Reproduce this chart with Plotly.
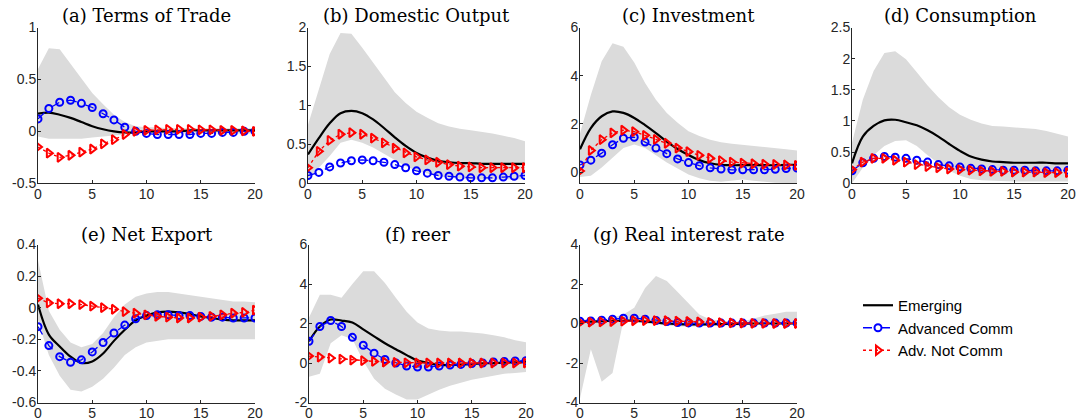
import plotly.graph_objects as go

periods = list(range(21))

titles = ["(a) Terms of Trade", "(b) Domestic Output", "(c) Investment", "(d) Consumption",
          "(e) Net Export", "(f) reer", "(g) Real interest rate"]
series_names = ["Emerging", "Advanced Comm", "Adv. Not Comm"]

# (a) Terms of Trade
tot_emerging = [0.17, 0.18, 0.16, 0.13, 0.09, 0.05, 0.02, 0.0, -0.01, -0.01, 0.0, 0.0, 0.0, 0.0, 0.01, 0.01, 0.01, 0.01, 0.01, 0.01, 0.01]
tot_adv_comm = [0.12, 0.22, 0.28, 0.30, 0.27, 0.23, 0.17, 0.11, 0.04, 0.0, -0.02, -0.03, -0.03, -0.03, -0.03, -0.02, -0.02, -0.01, -0.01, 0.0, 0.0]
tot_adv_not = [-0.15, -0.21, -0.25, -0.23, -0.20, -0.17, -0.12, -0.08, -0.03, 0.0, 0.01, 0.015, 0.02, 0.02, 0.02, 0.015, 0.015, 0.01, 0.01, 0.005, 0.0]
tot_hi = [0.60, 0.80, 0.79, 0.65, 0.50, 0.37, 0.26, 0.16, 0.09, 0.05, 0.04, 0.04, 0.03, 0.03, 0.03, 0.03, 0.03, 0.03, 0.03, 0.03, 0.03]
tot_lo = [-0.05, -0.07, -0.07, -0.07, -0.07, -0.06, -0.05, -0.04, -0.03, -0.02, -0.02, -0.02, -0.02, -0.02, -0.02, -0.02, -0.02, -0.02, -0.02, -0.02, -0.02]

# (b) Domestic Output
out_emerging = [0.37, 0.58, 0.77, 0.90, 0.93, 0.90, 0.82, 0.71, 0.59, 0.48, 0.39, 0.33, 0.29, 0.27, 0.26, 0.26, 0.25, 0.25, 0.25, 0.25, 0.25]
out_adv_comm = [0.10, 0.14, 0.21, 0.26, 0.29, 0.30, 0.29, 0.27, 0.24, 0.20, 0.16, 0.13, 0.10, 0.09, 0.08, 0.07, 0.07, 0.07, 0.08, 0.09, 0.10]
out_adv_not = [0.20, 0.41, 0.55, 0.63, 0.65, 0.63, 0.58, 0.52, 0.45, 0.39, 0.34, 0.30, 0.27, 0.24, 0.22, 0.21, 0.20, 0.20, 0.20, 0.20, 0.20]
out_hi = [0.75, 1.20, 1.66, 1.93, 1.92, 1.74, 1.55, 1.35, 1.17, 1.03, 0.92, 0.84, 0.77, 0.73, 0.70, 0.68, 0.66, 0.64, 0.61, 0.58, 0.54]
out_lo = [0.05, 0.20, 0.35, 0.52, 0.56, 0.52, 0.46, 0.38, 0.30, 0.22, 0.16, 0.12, 0.09, 0.07, 0.06, 0.05, 0.05, 0.05, 0.05, 0.05, 0.05]

# (c) Investment
inv_emerging = [0.95, 1.83, 2.32, 2.52, 2.46, 2.25, 1.95, 1.62, 1.27, 0.96, 0.71, 0.50, 0.37, 0.30, 0.29, 0.29, 0.29, 0.29, 0.29, 0.30, 0.30]
inv_adv_comm = [0.30, 0.50, 0.79, 1.14, 1.41, 1.45, 1.25, 1.00, 0.77, 0.55, 0.40, 0.27, 0.18, 0.13, 0.10, 0.10, 0.10, 0.10, 0.12, 0.15, 0.17]
inv_adv_not = [0.05, 0.90, 1.35, 1.63, 1.74, 1.68, 1.53, 1.36, 1.20, 1.00, 0.85, 0.70, 0.58, 0.48, 0.42, 0.38, 0.35, 0.33, 0.32, 0.30, 0.28]
inv_hi = [1.60, 3.20, 4.60, 5.35, 5.20, 4.55, 3.70, 3.00, 2.45, 2.05, 1.70, 1.50, 1.35, 1.24, 1.18, 1.14, 1.10, 1.06, 1.00, 0.95, 0.90]
inv_lo = [-0.20, -0.15, 0.20, 0.60, 1.00, 1.15, 1.00, 0.70, 0.40, 0.15, -0.10, -0.25, -0.35, -0.40, -0.35, -0.30, -0.35, -0.40, -0.44, -0.45, -0.45]

# (d) Consumption
con_emerging = [0.32, 0.75, 0.92, 1.01, 1.02, 0.98, 0.93, 0.85, 0.75, 0.63, 0.52, 0.43, 0.38, 0.35, 0.34, 0.33, 0.33, 0.33, 0.33, 0.32, 0.32]
con_adv_comm = [0.20, 0.33, 0.40, 0.43, 0.42, 0.40, 0.37, 0.34, 0.30, 0.28, 0.26, 0.24, 0.23, 0.22, 0.21, 0.21, 0.21, 0.20, 0.20, 0.20, 0.21]
con_adv_not = [0.22, 0.34, 0.40, 0.40, 0.37, 0.34, 0.30, 0.27, 0.25, 0.23, 0.22, 0.21, 0.20, 0.19, 0.19, 0.18, 0.18, 0.18, 0.17, 0.17, 0.17]
con_hi = [0.65, 1.34, 1.80, 2.09, 2.12, 1.99, 1.78, 1.57, 1.38, 1.22, 1.10, 1.02, 0.96, 0.92, 0.91, 0.90, 0.89, 0.87, 0.84, 0.80, 0.75]
con_lo = [0.0, 0.25, 0.45, 0.60, 0.68, 0.69, 0.60, 0.45, 0.32, 0.20, 0.12, 0.07, 0.05, 0.04, 0.03, 0.03, 0.03, 0.03, 0.03, 0.03, 0.03]

# (e) Net Export
nx_emerging = [0.02, -0.17, -0.245, -0.31, -0.35, -0.34, -0.29, -0.21, -0.14, -0.08, -0.05, -0.03, -0.025, -0.03, -0.04, -0.055, -0.065, -0.075, -0.08, -0.08, -0.08]
nx_adv_comm = [-0.12, -0.24, -0.31, -0.345, -0.33, -0.28, -0.22, -0.16, -0.11, -0.07, -0.05, -0.045, -0.045, -0.05, -0.05, -0.055, -0.06, -0.06, -0.065, -0.065, -0.065]
nx_adv_not = [0.06, 0.03, 0.025, 0.025, 0.02, 0.01, 0.0, -0.01, -0.025, -0.035, -0.045, -0.055, -0.06, -0.065, -0.065, -0.06, -0.055, -0.045, -0.035, -0.03, -0.015]
nx_hi = [0.30, -0.02, -0.14, -0.22, -0.25, -0.23, -0.16, -0.06, 0.02, 0.07, 0.09, 0.10, 0.10, 0.09, 0.08, 0.07, 0.06, 0.05, 0.04, 0.04, 0.035]
nx_lo = [-0.08, -0.30, -0.43, -0.52, -0.53, -0.50, -0.45, -0.38, -0.30, -0.25, -0.22, -0.21, -0.20, -0.20, -0.20, -0.20, -0.20, -0.20, -0.20, -0.20, -0.20]

# (f) reer
reer_emerging = [1.10, 1.85, 2.20, 2.15, 2.05, 1.70, 1.35, 1.00, 0.70, 0.40, 0.12, 0.0, -0.10, -0.10, -0.08, -0.05, -0.02, 0.0, 0.02, 0.03, 0.05]
reer_adv_comm = [1.10, 1.85, 2.15, 1.85, 1.30, 0.90, 0.50, 0.18, 0.0, -0.15, -0.20, -0.20, -0.15, -0.10, -0.07, -0.03, 0.0, 0.05, 0.08, 0.10, 0.12]
reer_adv_not = [0.35, 0.30, 0.25, 0.20, 0.15, 0.12, 0.08, 0.05, 0.03, 0.01, 0.0, 0.0, 0.0, 0.0, 0.0, 0.0, 0.0, 0.0, 0.0, 0.0, 0.0]
reer_hi = [2.30, 3.45, 3.45, 3.30, 4.00, 4.65, 4.65, 4.05, 3.30, 2.60, 2.05, 1.75, 1.65, 1.60, 1.60, 1.55, 1.50, 1.40, 1.30, 1.15, 1.05]
reer_lo = [-0.70, -0.55, 1.00, 1.40, 1.20, 0.10, -0.80, -1.30, -1.60, -1.85, -1.85, -1.60, -1.35, -1.15, -1.00, -0.85, -0.75, -0.65, -0.55, -0.50, -0.45]

# (g) Real interest rate
rir_emerging = [0.10, 0.10, 0.12, 0.13, 0.14, 0.15, 0.10, 0.05, 0.0, -0.03, -0.05, -0.05, -0.04, -0.03, -0.02, -0.01, 0.0, 0.0, 0.0, 0.0, 0.0]
rir_adv_comm = [0.12, 0.13, 0.17, 0.22, 0.27, 0.27, 0.22, 0.15, 0.10, 0.05, 0.03, 0.02, 0.02, 0.02, 0.02, 0.02, 0.02, 0.02, 0.02, 0.02, 0.02]
rir_adv_not = [0.05, 0.07, 0.08, 0.10, 0.12, 0.14, 0.15, 0.15, 0.14, 0.12, 0.10, 0.08, 0.06, 0.04, 0.03, 0.02, 0.01, 0.01, 0.0, 0.0, 0.0]
rir_hi = [0.20, 0.20, 0.20, 0.30, 0.45, 0.80, 1.80, 2.40, 2.15, 1.60, 1.00, 0.45, 0.20, 0.15, 0.10, 0.10, 0.25, 0.40, 0.50, 0.60, 0.60]
rir_lo = [-3.80, -1.30, -2.95, -2.50, 0.15, 0.05, 0.0, -0.05, -0.10, -0.15, -0.15, -0.15, -0.10, -0.10, -0.10, -0.10, -0.05, -0.05, -0.05, -0.05, -0.05]

x_tickvals = [0, 5, 10, 15, 20]
x_ticktext = ["0", "5", "10", "15", "20"]
y_ranges = [[-0.5, 1], [0, 2], [-0.46, 6], [0, 2.5], [-0.6, 0.4], [-2, 6], [-4, 4]]
y_tickvals = [[-0.5, 0, 0.5, 1], [0, 0.5, 1, 1.5, 2], [0, 2, 4, 6], [0, 0.5, 1, 1.5, 2, 2.5],
              [-0.6, -0.4, -0.2, 0, 0.2, 0.4], [-2, 0, 2, 4, 6], [-4, -2, 0, 2, 4]]
y_ticktext = [["-0.5", "0", "0.5", "1"], ["0", "0.5", "1", "1.5", "2"], ["0", "2", "4", "6"],
              ["0", "0.5", "1", "1.5", "2", "2.5"], ["-0.6", "-0.4", "-0.2", "0", "0.2", "0.4"],
              ["-2", "0", "2", "4", "6"], ["-4", "-2", "0", "2", "4"]]

panels = [
    (tot_emerging, tot_adv_comm, tot_adv_not, tot_lo, tot_hi),
    (out_emerging, out_adv_comm, out_adv_not, out_lo, out_hi),
    (inv_emerging, inv_adv_comm, inv_adv_not, inv_lo, inv_hi),
    (con_emerging, con_adv_comm, con_adv_not, con_lo, con_hi),
    (nx_emerging, nx_adv_comm, nx_adv_not, nx_lo, nx_hi),
    (reer_emerging, reer_adv_comm, reer_adv_not, reer_lo, reer_hi),
    (rir_emerging, rir_adv_comm, rir_adv_not, rir_lo, rir_hi),
]

# ---- layout (pixel boxes of plot areas) ----
W, H = 1077, 420
boxes = [
    (38, 255, 27.5, 183.3), (308, 525, 27.5, 183.3), (580, 797, 27.5, 183.3), (852, 1068, 27.5, 183.3),
    (38, 255, 244.5, 402.5), (309, 526, 244.5, 402.5), (580, 797, 244.5, 402.5),
]
title_y = [16, 16, 16, 16, 234, 234, 234]

BAND = "rgb(219,219,219)"
AXC = "#262626"
TICKFONT = dict(family="Liberation Sans, Arial, sans-serif", size=14, color=AXC)

fig = go.Figure()
layout = dict(
    width=W, height=H, margin=dict(l=0, r=0, t=0, b=0, autoexpand=False),
    paper_bgcolor="white", plot_bgcolor="white",
    showlegend=True,
)

annotations = []
for i, (emg, adv, nadv, lo, hi) in enumerate(panels):
    n = i + 1
    xa = "x" if n == 1 else f"x{n}"
    ya = "y" if n == 1 else f"y{n}"
    x0, x1, yt, yb = boxes[i]
    layout[f"xaxis{'' if n == 1 else n}"] = dict(
        domain=[x0 / W, x1 / W], anchor=ya, range=[0, 20], automargin=False,
        tickvals=x_tickvals, ticktext=x_ticktext, ticks="inside", ticklen=3,
        tickcolor=AXC, showline=True, linecolor=AXC, linewidth=1,
        showgrid=False, zeroline=False, tickfont=TICKFONT, mirror=False,
        ticklabelstandoff=-2,
    )
    layout[f"yaxis{'' if n == 1 else n}"] = dict(
        domain=[1 - yb / H, 1 - yt / H], anchor=xa, range=y_ranges[i], automargin=False,
        tickvals=y_tickvals[i], ticktext=y_ticktext[i], ticks="inside", ticklen=3,
        tickcolor=AXC, showline=True, linecolor=AXC, linewidth=1,
        showgrid=False, zeroline=False, tickfont=TICKFONT, mirror=False,
        ticklabelstandoff=-2,
    )
    # confidence band
    fig.add_trace(go.Scatter(x=periods, y=lo, mode="lines", line=dict(width=0, color=BAND),
                             xaxis=xa, yaxis=ya, showlegend=False, hoverinfo="skip"))
    fig.add_trace(go.Scatter(x=periods, y=hi, mode="lines", line=dict(width=0, color=BAND),
                             fill="tonexty", fillcolor=BAND,
                             xaxis=xa, yaxis=ya, showlegend=False, hoverinfo="skip"))
    fig.add_trace(go.Scatter(x=periods, y=emg, mode="lines", name=series_names[0],
                             line=dict(color="black", width=2.2, shape="spline"),
                             xaxis=xa, yaxis=ya, showlegend=(i == 0)))
    fig.add_trace(go.Scatter(x=periods, y=adv, mode="lines+markers", name=series_names[1],
                             line=dict(color="blue", width=1.3, dash="dash"),
                             marker=dict(symbol="circle-open", size=7, color="blue",
                                         line=dict(width=2, color="blue")),
                             xaxis=xa, yaxis=ya, showlegend=(i == 0)))
    fig.add_trace(go.Scatter(x=periods, y=nadv, mode="lines+markers", name=series_names[2],
                             line=dict(color="red", width=1.3, dash="dot"),
                             marker=dict(symbol="triangle-right-open", size=8, color="red",
                                         line=dict(width=2, color="red")),
                             xaxis=xa, yaxis=ya, showlegend=(i == 0)))
    annotations.append(dict(
        text=titles[i], xref="paper", yref="paper",
        x=((x0 + x1) / 2) / W, y=1 - title_y[i] / H, xanchor="center", yanchor="middle",
        showarrow=False, font=dict(family="DejaVu Serif, serif", size=18, color="black"),
    ))

layout["annotations"] = annotations
layout["legend"] = dict(
    x=858 / W, y=1 - 289 / H, xanchor="left", yanchor="top", traceorder="normal",
    font=dict(family="Liberation Sans, Arial, sans-serif", size=15, color="black"),
    bgcolor="rgba(0,0,0,0)", tracegroupgap=0,
)
fig.update_layout(**layout)
fig.write_html("out.html", config={"displayModeBar": False},
               post_script="document.body.style.margin='0';document.body.style.overflow='hidden';")
